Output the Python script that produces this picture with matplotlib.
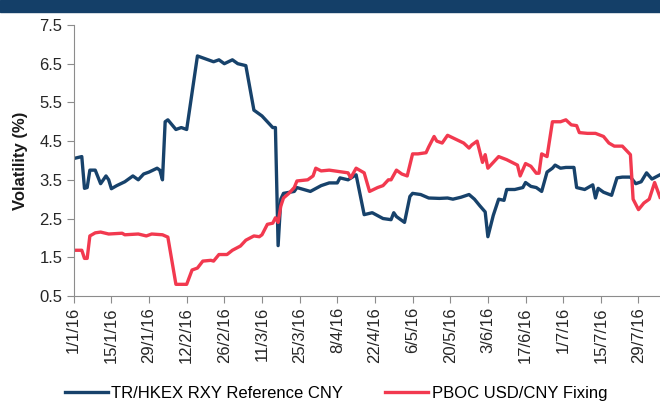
import matplotlib
matplotlib.use("Agg")
import matplotlib.pyplot as plt
import matplotlib.dates as mdates
import pandas as pd

plt.rcParams["font.family"] = ["Liberation Sans", "DejaVu Sans"]

START = pd.Timestamp("2016-01-01")

# days since 1 Jan 2016
rxy_days = [0, 3, 4, 5, 6, 8, 10, 12, 13, 14, 16, 19, 22, 24, 26, 28, 31, 32, 33,
            34, 35, 38, 40, 42, 46, 48, 52, 54, 56, 59, 61, 64, 67, 70, 72, 74, 75,
            76, 77, 78, 82, 83, 88, 92, 95, 98, 99, 102, 105, 108, 111, 115, 118,
            119, 120, 123, 125, 126, 129, 132, 136, 139, 141, 144, 147, 149, 151,
            153, 154, 156, 158, 160, 161, 164, 167, 168, 170, 172, 174, 176, 178,
            179, 181, 183, 186, 187, 190, 193, 194, 195, 197, 200, 202, 204, 207,
            209, 211, 213, 215, 218]
rxy_vol = [4.05, 4.1, 3.28, 3.3, 3.75, 3.75, 3.4, 3.6, 3.5, 3.27, 3.35, 3.45, 3.6,
           3.5, 3.65, 3.7, 3.8, 3.75, 3.5, 5.0, 5.05, 4.8, 4.85, 4.8, 6.7, 6.65,
           6.55, 6.6, 6.5, 6.6, 6.5, 6.45, 5.3, 5.15, 5.0, 4.85, 4.85, 1.8, 3.0,
           3.15, 3.2, 3.3, 3.2, 3.35, 3.42, 3.42, 3.55, 3.5, 3.63, 2.6, 2.65, 2.5,
           2.47, 2.65, 2.55, 2.4, 3.07, 3.15, 3.12, 3.03, 3.02, 3.03, 3.0, 3.05,
           3.12, 3.0, 2.83, 2.67, 2.03, 2.58, 3.0, 2.97, 3.25, 3.25, 3.3, 3.43,
           3.33, 3.3, 3.2, 3.7, 3.8, 3.88, 3.8, 3.82, 3.82, 3.3, 3.25, 3.37, 3.03,
           3.28, 3.18, 3.1, 3.55, 3.57, 3.57, 3.4, 3.45, 3.68, 3.52, 3.63]

pboc_days = [0, 3, 4, 5, 6, 8, 10, 13, 18, 19, 24, 27, 29, 33, 35, 38, 42, 44, 46,
             48, 51, 52, 54, 57, 59, 62, 64, 67, 69, 70, 72, 74, 75, 76, 77, 78, 80,
             82, 83, 87, 89, 90, 92, 95, 98, 102, 103, 105, 108, 110, 113, 115, 117,
             118, 120, 122, 124, 126, 128, 131, 132, 134, 135, 137, 139, 142, 145,
             147, 148, 150, 152, 153, 154, 156, 158, 161, 165, 166, 168, 170, 172,
             173, 174, 176, 178, 181, 183, 185, 187, 188, 191, 194, 197, 199, 201,
             203, 204, 207, 208, 210, 212, 214, 216, 218]
pboc_vol = [1.68, 1.68, 1.47, 1.47, 2.05, 2.13, 2.15, 2.1, 2.12, 2.08, 2.1, 2.05,
            2.1, 2.08, 2.02, 0.8, 0.8, 1.17, 1.22, 1.4, 1.42, 1.4, 1.57, 1.57, 1.68,
            1.79, 1.94, 2.05, 2.03, 2.08, 2.35, 2.38, 2.52, 2.4, 2.82, 3.03, 3.15,
            3.3, 3.47, 3.5, 3.6, 3.8, 3.73, 3.75, 3.72, 3.68, 3.55, 3.8, 3.68, 3.2,
            3.3, 3.35, 3.5, 3.5, 3.75, 3.65, 3.6, 4.17, 4.17, 4.2, 4.35, 4.62, 4.5,
            4.45, 4.65, 4.55, 4.45, 4.32, 4.4, 4.5, 3.95, 4.15, 3.8, 3.95, 4.1, 4.02,
            3.88, 3.6, 3.92, 3.85, 3.67, 3.67, 4.17, 4.1, 5.0, 5.0, 5.05, 4.92, 4.9,
            4.72, 4.7, 4.7, 4.62, 4.45, 4.37, 4.37, 4.37, 4.15, 3.0, 2.73, 2.9, 3.0,
            3.43, 3.05]

series_names = ["TR/HKEX RXY Reference CNY", "PBOC USD/CNY Fixing"]
series_colors = ["#17426b", "#f2394f"]
y_ticks = [0.5, 1.5, 2.5, 3.5, 4.5, 5.5, 6.5, 7.5]

rxy_dates = START + pd.to_timedelta(rxy_days, unit="D")
pboc_dates = START + pd.to_timedelta(pboc_days, unit="D")

fig = plt.figure(figsize=(6.6, 4.01), dpi=100)
ax = fig.add_axes([0.1117, 0.262, 0.8883, 0.6757])

# header strip
fig.patches.append(plt.Rectangle((0, 0.97), 1, 0.03, transform=fig.transFigure,
                                 color="#143f68", zorder=0))

ax.plot(rxy_dates, rxy_vol, color=series_colors[0], lw=2.4, label=series_names[0])
ax.plot(pboc_dates, pboc_vol, color=series_colors[1], lw=2.4, label=series_names[1])

ax.set_ylim(0.5, 7.5)
ax.set_yticks(y_ticks)
ax.set_yticklabels([f"{v:.1f}" for v in y_ticks])
ax.set_xlim(START, START + pd.Timedelta(days=218))
ticks = pd.date_range(START, START + pd.Timedelta(days=218), freq="14D")
ax.set_xticks(ticks)
ax.set_xticklabels([f"{d.day}/{d.month}/{d.year % 100}" for d in ticks], rotation=90)

for side in ["top", "right"]:
    ax.spines[side].set_visible(False)
for side in ["left", "bottom"]:
    ax.spines[side].set_color("#8c8c8c")
ax.tick_params(colors="#8c8c8c", labelcolor="#262626", labelsize=12, length=5, pad=3)
ax.set_ylabel("Volatility (%)", fontsize=12, fontweight="bold", color="#1a1a1a",
              labelpad=8)

fig.legend(loc="center left", bbox_to_anchor=(0.088, 0.018), ncol=2, frameon=False,
           fontsize=12, handlelength=2.6, handletextpad=0.2, columnspacing=2.5,
           borderaxespad=0)

fig.savefig("out.png", dpi=100)
